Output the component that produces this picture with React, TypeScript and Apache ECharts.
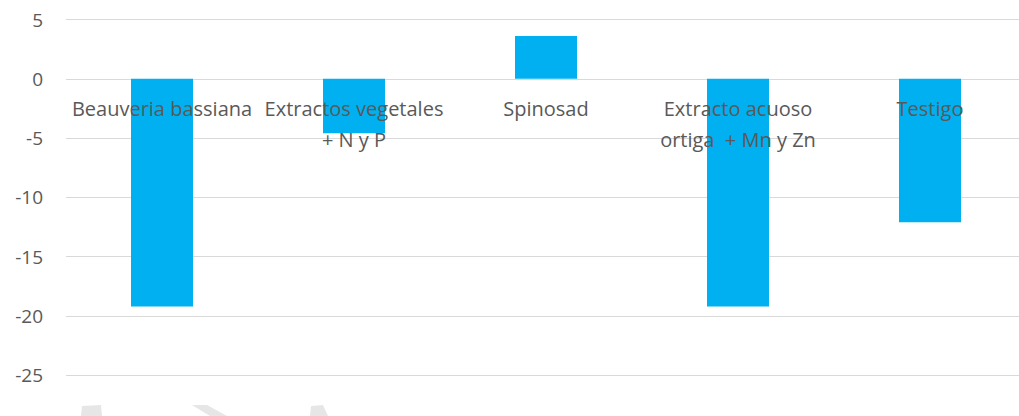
import React, { useEffect, useRef } from "react";
import * as echarts from "echarts";

const categories: string[] = [
  "Beauveria bassiana",
  "Extractos vegetales\n+ N y P",
  "Spinosad",
  "Extracto acuoso\nortiga  + Mn y Zn",
  "Testigo",
];
const values: number[] = [-19.2, -4.6, 3.6, -19.2, -12.1];
const yMin = -30;
const yMax = 5;
const yStep = 5;

export default function App() {
  const ref = useRef<HTMLDivElement>(null);
  useEffect(() => {
    if (!ref.current) return;
    const chart = echarts.init(ref.current, undefined, { renderer: "svg" });
    const font = "'Open Sans', 'Noto Sans', sans-serif";
    const wm = "#e6e6e6";
    const gridBase = { left: 66, right: -7, containLabel: false, outerBoundsMode: "none" };
    chart.setOption({
      animation: false,
      backgroundColor: "#ffffff",
      grid: [
        { ...gridBase, top: 19.5, bottom: -18.5 },
        // zero-line band: its bottom edge sits on the value 0 line of the main grid
        { ...gridBase, top: 19.5, height: 59.3 },
      ],
      xAxis: [
        {
          type: "category",
          gridIndex: 0,
          data: categories,
          axisLine: { show: false },
          axisTick: { show: false },
          axisLabel: { show: false },
          splitLine: { show: false },
        },
        {
          type: "category",
          gridIndex: 1,
          data: categories,
          position: "bottom",
          z: 10,
          axisLine: { show: false },
          axisTick: { show: false },
          axisLabel: {
            color: "#595959",
            fontFamily: font,
            fontSize: 20,
            lineHeight: 31,
            margin: 14,
            interval: 0,
          },
          splitLine: { show: false },
        },
      ],
      yAxis: [
        {
          type: "value",
          gridIndex: 0,
          min: yMin,
          max: yMax,
          interval: yStep,
          axisLine: { show: false },
          axisTick: { show: false },
          axisLabel: {
            color: "#595959",
            fontFamily: font,
            fontSize: 19,
            margin: 23,
            showMinLabel: false,
          },
          splitLine: { show: true, lineStyle: { color: "#d9d9d9", width: 1 } },
        },
        {
          type: "value",
          gridIndex: 1,
          min: 0,
          max: yMax,
          show: false,
        },
      ],
      series: [
        {
          type: "bar",
          xAxisIndex: 0,
          yAxisIndex: 0,
          data: values,
          barWidth: 62,
          itemStyle: { color: "#00B0F0" },
        },
      ],
      graphic: [
        { type: "polygon", shape: { points: [[82, 406], [101, 405], [102, 416], [81, 416]] }, style: { fill: wm }, silent: true },
        { type: "polygon", shape: { points: [[192, 405], [207, 405], [227, 416], [210, 416]] }, style: { fill: wm }, silent: true },
        { type: "polygon", shape: { points: [[311, 406], [323, 405], [328, 416], [310, 416]] }, style: { fill: wm }, silent: true },
      ],
    });
    return () => chart.dispose();
  }, []);
  return (
    <div style={{ position: "absolute", left: 0, top: 0, width: 1019, height: 416, overflow: "hidden" }}>
      <div ref={ref} style={{ width: 1019, height: 416 }} />
    </div>
  );
}
